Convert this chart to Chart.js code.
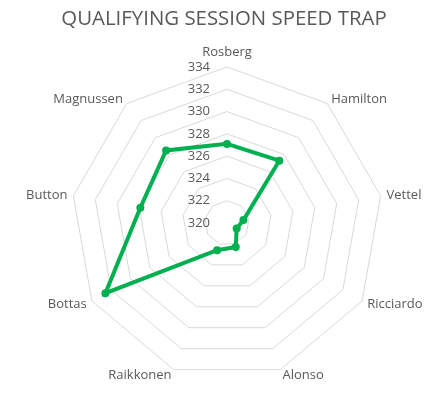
<!DOCTYPE html>
<html>
<head>
<meta charset="utf-8">
<script src="https://cdn.jsdelivr.net/npm/chart.js@4/dist/chart.umd.min.js"></script>
<style>
html,body{margin:0;padding:0;background:#fff;}
#wrap{width:440px;height:394px;position:relative;}
</style>
</head>
<body>
<div id="wrap"><canvas id="c"></canvas></div>
<script>
const drivers = ['Rosberg','Hamilton','Vettel','Ricciardo','Alonso','Raikkonen','Bottas','Button','Magnussen'];
const speeds = [327.1, 327.3, 321.5, 321.0, 322.3, 322.6, 332.6, 327.9, 328.5];
const tickValues = [320, 322, 324, 326, 328, 330, 332, 334];
const chartTitle = 'QUALIFYING SESSION SPEED TRAP';

const labelPlugin = {
  id: 'customLabels',
  beforeDatasetsDraw(chart) {
    const s = chart.scales.r;
    const ctx = chart.ctx;
    ctx.save();
    ctx.fillStyle = '#595959';
    ctx.textBaseline = 'middle';
    // title
    ctx.font = '20.4px "Open Sans"';
    ctx.textAlign = 'center';
    ctx.fillText(chartTitle, 224, 19);
    // radial tick labels, left of the vertical axis
    ctx.font = '13px "Open Sans"';
    ctx.textAlign = 'right';
    tickValues.forEach(v => {
      const d = s.getDistanceFromCenterForValue(v);
      ctx.fillText(String(v), s.xCenter - 17, s.yCenter - d);
    });
    // category labels around the outer ring
    drivers.forEach((name, i) => {
      const dist = s.drawingArea + (i === 0 ? 15 : 6);
      const p = s.getPointPosition(i, dist);
      const dx = p.x - s.xCenter;
      ctx.textAlign = dx > 1 ? 'left' : (dx < -1 ? 'right' : 'center');
      ctx.fillText(name, p.x, p.y);
    });
    ctx.restore();
  }
};

new Chart(document.getElementById('c'), {
  type: 'radar',
  data: {
    labels: drivers,
    datasets: [{
      data: speeds,
      borderColor: '#00B050',
      backgroundColor: '#00B050',
      borderWidth: 4,
      pointRadius: 4,
      pointHoverRadius: 4,
      pointBackgroundColor: '#00B050',
      pointBorderWidth: 0,
      fill: false,
      tension: 0
    }]
  },
  options: {
    responsive: true,
    maintainAspectRatio: false,
    animation: false,
    layout: { padding: { left: 71, right: 57, top: 67, bottom: 15 } },
    plugins: {
      legend: { display: false },
      tooltip: { enabled: false },
      title: { display: false }
    },
    scales: {
      r: {
        min: 320,
        max: 334,
        ticks: { stepSize: 2, display: false },
        angleLines: { display: false },
        grid: { color: '#d9d9d9', lineWidth: 1 },
        pointLabels: { display: false }
      }
    }
  },
  plugins: [labelPlugin]
});
</script>
</body>
</html>
